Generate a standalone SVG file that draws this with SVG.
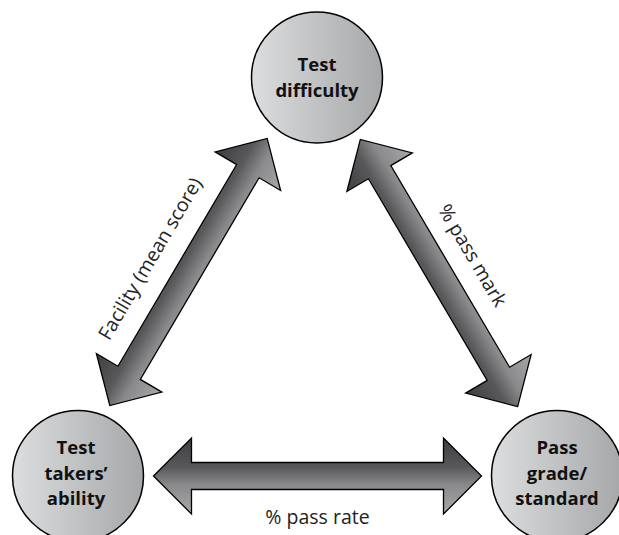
<svg xmlns="http://www.w3.org/2000/svg" width="619" height="535" viewBox="0 0 619 535">
<style>
.node{stroke:#000;stroke-width:1.5;fill:url(#cg)}
.ntxt{font-family:"Open Sans","Liberation Sans",sans-serif;font-weight:bold;font-size:18.5px;fill:#111;text-anchor:middle}
.arrow{stroke:#000;stroke-width:1.3;stroke-linejoin:miter;fill:url(#ag)}
.lbl{font-family:"Open Sans","Liberation Sans",sans-serif;font-size:19.5px;fill:#222;text-anchor:middle}
</style>
<defs>
<linearGradient id="cg" x1="0" y1="0" x2="1" y2="0">
<stop offset="0" stop-color="#dcdddf"/>
<stop offset="1" stop-color="#a6a7a9"/>
</linearGradient>
<linearGradient id="ag" gradientUnits="userSpaceOnUse" x1="0" y1="-38" x2="0" y2="38">
<stop offset="0" stop-color="#3e3e40"/>
<stop offset="0.38" stop-color="#58585a"/>
<stop offset="0.62" stop-color="#8a8a8c"/>
<stop offset="1" stop-color="#a8a8aa"/>
</linearGradient>
</defs>
<g id="connectors">
<g id="arrow-left" transform="translate(188.5,272) rotate(-59.5)">
<polygon class="arrow" points="-155,0 -117,-38 -117,-13 117,-13 117,-38 155,0 117,38 117,13 -117,13 -117,38"/>
</g>
<g id="arrow-right" transform="translate(439,273) rotate(-120.5)">
<polygon class="arrow" points="-155,0 -117,-38 -117,-13 117,-13 117,-38 155,0 117,38 117,13 -117,13 -117,38"/>
</g>
<g id="arrow-bottom" transform="translate(317.5,476)">
<polygon class="arrow" points="-164,0 -126,-38 -126,-13.5 126,-13.5 126,-38 164,0 126,38 126,13.5 -126,13.5 -126,38"/>
</g>
<text class="lbl" transform="translate(188.5,272) rotate(-59.5)" x="-8" y="-33">Facility (mean score)</text>
<text class="lbl" transform="translate(439,273) rotate(59.5)" x="2" y="-31">% pass mark</text>
<text class="lbl" x="317.5" y="524">% pass rate</text>
</g>
<g id="node-difficulty">
<circle class="node" cx="317" cy="77.5" r="65.5"/>
<text class="ntxt" x="317" y="71">Test</text>
<text class="ntxt" x="317" y="97">difficulty</text>
</g>
<g id="node-ability">
<circle class="node" cx="78" cy="476" r="65.5"/>
<text class="ntxt" x="76" y="454">Test</text>
<text class="ntxt" x="76" y="480">takers’</text>
<text class="ntxt" x="76" y="505">ability</text>
</g>
<g id="node-pass">
<circle class="node" cx="557" cy="476" r="65.5"/>
<text class="ntxt" x="557" y="454">Pass</text>
<text class="ntxt" x="557" y="480">grade/</text>
<text class="ntxt" x="557" y="505">standard</text>
</g>
</svg>
